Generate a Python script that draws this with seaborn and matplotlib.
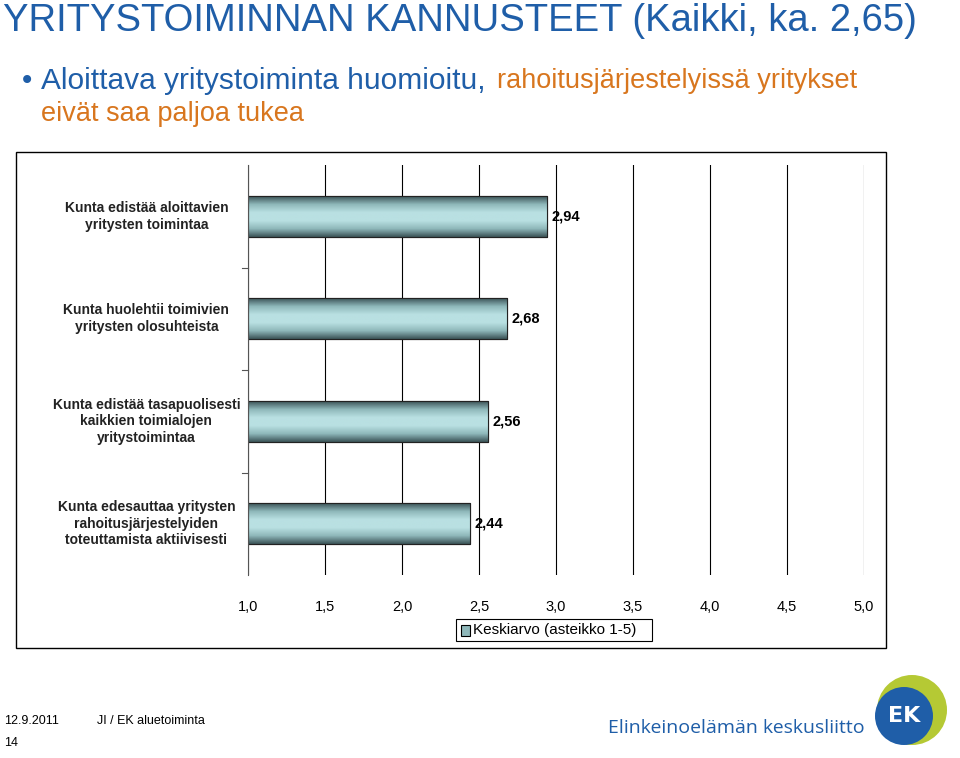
import matplotlib
matplotlib.use("Agg")
import matplotlib.pyplot as plt
import numpy as np
import pandas as pd
import seaborn as sns
from matplotlib.colors import LinearSegmentedColormap
from matplotlib.patches import Rectangle, Ellipse

categories = [
    "Kunta edistää aloittavien\nyritysten toimintaa",
    "Kunta huolehtii toimivien\nyritysten olosuhteista",
    "Kunta edistää tasapuolisesti\nkaikkien toimialojen\nyritystoimintaa",
    "Kunta edesauttaa yritysten\nrahoitusjärjestelyiden\ntoteuttamista aktiivisesti",
]
values = [2.94, 2.68, 2.56, 2.44]
xticks = [1.0, 1.5, 2.0, 2.5, 3.0, 3.5, 4.0, 4.5, 5.0]
base = 1.0

df = pd.DataFrame({"kysymys": categories, "arvo": values})

fig = plt.figure(figsize=(9.6, 7.58), dpi=100)
fig.patch.set_facecolor("white")

fig.text(0.003, 0.972, "YRITYSTOIMINNAN KANNUSTEET (Kaikki, ka. 2,65)",
         fontsize=27.5, color="#1f5ea8", va="center", family="Liberation Sans")
fig.text(0.02, 0.893, "•", fontsize=20, color="#1f5ea8", va="center")
fig.text(0.043, 0.893, "Aloittava yritystoiminta huomioitu,", fontsize=21.5,
         color="#1f5ea8", va="center", family="Liberation Sans")
fig.text(0.518, 0.893, "rahoitusjärjestelyissä yritykset", fontsize=19.5,
         color="#d8761e", va="center", family="Liberation Sans")
fig.text(0.043, 0.849, "eivät saa paljoa tukea", fontsize=19.5,
         color="#d8761e", va="center", family="Liberation Sans")

# chart frame
fig.patches.append(Rectangle((16 / 960, 110 / 758), 870 / 960, 496 / 758,
                             transform=fig.transFigure, fill=False,
                             edgecolor="black", linewidth=1.0))

ax = fig.add_axes([248 / 960, 183 / 758, 616 / 960, 410 / 758])
sns.barplot(data=df, x="arvo", y="kysymys", orient="h", ax=ax, width=0.4,
            color="#a9d3d5", edgecolor="#222222", linewidth=0.8)
ax.set_xticks(xticks)
ax.set_xticklabels([f"{t:.1f}".replace(".", ",") for t in xticks],
                   fontsize=10.5, family="Liberation Sans")
ax.tick_params(axis="x", length=0, pad=18)
ax.tick_params(axis="y", length=0)
ax.set_yticklabels([])
for i, c in enumerate(categories):
    ax.text(-0.165, i, c, transform=ax.get_yaxis_transform(), ha="center",
            va="center", fontsize=10, fontweight="bold", color="#222222",
            family="Liberation Sans", linespacing=1.25)
ax.set_xlabel("")
ax.set_ylabel("")
ax.xaxis.grid(True, color="black", linewidth=0.8)
ax.set_axisbelow(True)
for s in ["top", "right", "bottom"]:
    ax.spines[s].set_visible(False)
ax.spines["left"].set_color("#555555")

# bars start at the scale minimum; gradient fill
cmap = LinearSegmentedColormap.from_list(
    "bar", ["#3c5458", "#8fb8ba", "#b9e0e2", "#b9e0e2", "#8fb8ba", "#3c5458"])
grad = np.linspace(0, 1, 100).reshape(-1, 1)
for patch, v in zip(ax.patches, values):
    patch.set_x(base)
    patch.set_width(v - base)
    x0, y0 = patch.get_x(), patch.get_y()
    w, h = patch.get_width(), patch.get_height()
    im = ax.imshow(grad, cmap=cmap, aspect="auto", extent=[x0, x0 + w, y0 + h, y0],
                   zorder=patch.get_zorder() + 0.1)
    im.set_clip_path(patch)
    ax.add_patch(Rectangle((x0, y0), w, h, fill=False, edgecolor="#222222",
                           linewidth=0.8, zorder=patch.get_zorder() + 0.2))
    ax.text(v + 0.03, y0 + h / 2, f"{v:.2f}".replace(".", ","), va="center",
            ha="left", fontsize=10.5, fontweight="bold", family="Liberation Sans")
ax.set_xlim(1.0, 5.0)
ax.set_ylim(3.5, -0.5)
for yy in [0.5, 1.5, 2.5]:
    ax.plot([-0.01, 0], [yy, yy], color="#555555", lw=0.8,
            transform=ax.get_yaxis_transform(), clip_on=False)

# legend
fig.patches.append(Rectangle((456 / 960, 1 - 641 / 758), 196 / 960, 22 / 758,
                             transform=fig.transFigure, fill=False,
                             edgecolor="black", linewidth=0.8))
fig.patches.append(Rectangle((461 / 960, 1 - 636 / 758), 9 / 960, 11 / 758,
                             transform=fig.transFigure, facecolor="#8fb8ba",
                             edgecolor="black", linewidth=0.8))
fig.text(473 / 960, 1 - 630 / 758, "Keskiarvo (asteikko 1-5)", fontsize=11,
         va="center", family="Liberation Sans")

# footer
fig.text(4 / 960, 1 - 721 / 758, "12.9.2011", fontsize=9, va="center", family="Liberation Sans")
fig.text(97 / 960, 1 - 721 / 758, "JI / EK aluetoiminta", fontsize=9, va="center", family="Liberation Sans")
fig.text(4 / 960, 1 - 743 / 758, "14", fontsize=9, va="center", family="Liberation Sans")
fig.text(608 / 960, 1 - 728 / 758, "Elinkeinoelämän keskusliitto", fontsize=14,
         color="#1f5ea8", va="center", family="Open Sans")
fig.patches.append(Ellipse((912 / 960, 1 - 710 / 758), 70 / 960, 70 / 758,
                           transform=fig.transFigure, facecolor="#b5c934", edgecolor="none"))
fig.patches.append(Ellipse((904 / 960, 1 - 716 / 758), 58 / 960, 58 / 758,
                           transform=fig.transFigure, facecolor="#1f5ea8", edgecolor="none"))
fig.text(904 / 960, 1 - 716 / 758, "EK", fontsize=16, color="white", fontweight="bold",
         ha="center", va="center", family="DejaVu Sans")

fig.savefig("out.png", dpi=100)
